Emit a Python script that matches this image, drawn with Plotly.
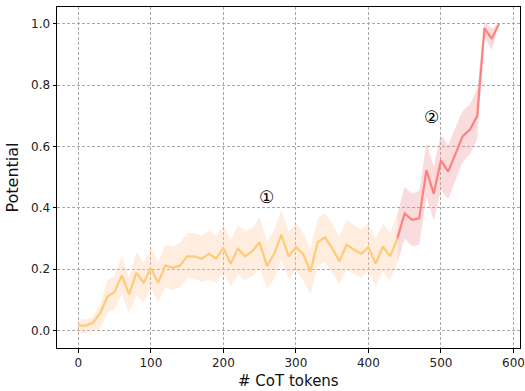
import plotly.graph_objects as go

# CoT token positions
tokens = [0, 10, 20, 30, 40, 50, 60, 70, 80, 90, 100, 110, 120, 130, 140, 150, 160, 170, 180, 190,
          200, 210, 220, 230, 240, 250, 260, 270, 280, 290, 300, 310, 320, 330, 340, 350, 360, 370,
          380, 390, 400, 410, 420, 430, 440, 450, 460, 470, 480, 490, 500, 510, 520, 530, 540, 550,
          560, 570, 580]

potential_mean = [0.016, 0.016, 0.025, 0.056, 0.110, 0.126, 0.180, 0.118, 0.188, 0.156, 0.203, 0.156,
                  0.212, 0.205, 0.211, 0.242, 0.242, 0.234, 0.250, 0.235, 0.269, 0.218, 0.267, 0.242,
                  0.259, 0.288, 0.210, 0.250, 0.312, 0.242, 0.272, 0.250, 0.192, 0.288, 0.304, 0.269,
                  0.226, 0.280, 0.264, 0.250, 0.272, 0.218, 0.274, 0.242, 0.302, 0.382, 0.361, 0.366,
                  0.523, 0.446, 0.555, 0.518, 0.576, 0.634, 0.655, 0.700, 0.986, 0.951, 1.000]

potential_upper = [0.036, 0.036, 0.043, 0.086, 0.164, 0.178, 0.246, 0.172, 0.256, 0.221, 0.269, 0.224,
                   0.280, 0.275, 0.285, 0.318, 0.318, 0.309, 0.325, 0.310, 0.343, 0.296, 0.343, 0.323,
                   0.334, 0.369, 0.289, 0.325, 0.393, 0.323, 0.350, 0.318, 0.269, 0.366, 0.384, 0.350,
                   0.304, 0.361, 0.345, 0.328, 0.350, 0.299, 0.350, 0.318, 0.382, 0.469, 0.447, 0.455,
                   0.612, 0.535, 0.638, 0.603, 0.663, 0.716, 0.738, 0.787, 1.007, 0.986, 1.000]

potential_lower = [-0.008, -0.008, 0.000, 0.005, 0.056, 0.070, 0.118, 0.059, 0.113, 0.091, 0.140, 0.091,
                   0.140, 0.131, 0.140, 0.170, 0.170, 0.159, 0.165, 0.156, 0.185, 0.145, 0.183, 0.164,
                   0.178, 0.205, 0.138, 0.167, 0.232, 0.167, 0.196, 0.162, 0.118, 0.210, 0.222, 0.188,
                   0.151, 0.199, 0.183, 0.172, 0.194, 0.145, 0.194, 0.164, 0.221, 0.300, 0.275, 0.280,
                   0.436, 0.358, 0.458, 0.428, 0.490, 0.550, 0.576, 0.625, 0.959, 0.914, 1.000]

# index of the token where the second phase begins (440 tokens)
split_at = 44

phases = [
    (slice(0, split_at + 1), "#ffca78", "rgba(255,205,160,0.34)"),
    (slice(split_at, len(tokens)), "#ff8080", "rgba(240,140,140,0.30)"),
]

fig = go.Figure()
for sl, line_color, band_color in phases:
    xs = tokens[sl]
    up = potential_upper[sl]
    lo = potential_lower[sl]
    fig.add_trace(go.Scatter(
        x=xs + xs[::-1], y=up + lo[::-1], fill="toself", fillcolor=band_color,
        line=dict(width=0), mode="lines", hoverinfo="skip", showlegend=False))
    fig.add_trace(go.Scatter(
        x=xs, y=potential_mean[sl], mode="lines",
        line=dict(color=line_color, width=2.2), showlegend=False))

# phase markers
markers = [("①", 260, 0.437), ("②", 487, 0.697)]
for label, mx, my in markers:
    fig.add_annotation(x=mx, y=my, text=label, showarrow=False,
                       font=dict(size=17, color="black",
                                 family="DejaVu Sans, Noto Sans CJK SC"))

plot_h = 391 - 7 - 43

# x-axis title, sitting on the bottom edge of the figure
fig.add_annotation(x=0.5, y=-43 / plot_h, xref="paper", yref="paper", text="# CoT tokens",
                   showarrow=False, xanchor="center", yanchor="bottom", borderpad=0,
                   font=dict(size=15, color="#111"))

axis_common = dict(
    showline=True, mirror=True, linecolor="black", linewidth=1,
    ticks="outside", ticklen=3.5, tickcolor="black",
    showgrid=True, gridcolor="#a8a8a8", griddash="3px,2px", gridwidth=0.8,
    zeroline=False, tickfont=dict(size=12, color="#222"), automargin=False,
)

fig.update_xaxes(range=[-29.4, 609], tickvals=[0, 100, 200, 300, 400, 500, 600],
                 ticklabeloverflow="allow", **axis_common)
fig.update_yaxes(range=[-0.057, 1.055], tickvals=[0.0, 0.2, 0.4, 0.6, 0.8, 1.0],
                 tickformat=".1f",
                 title=dict(text="Potential", font=dict(size=16, color="#111"), standoff=8),
                 **axis_common)

fig.update_layout(
    width=525, height=391,
    margin=dict(l=57, r=5, t=7, b=43),
    plot_bgcolor="white", paper_bgcolor="white",
    font=dict(family="DejaVu Sans"),
)

fig.write_html("out.html")
